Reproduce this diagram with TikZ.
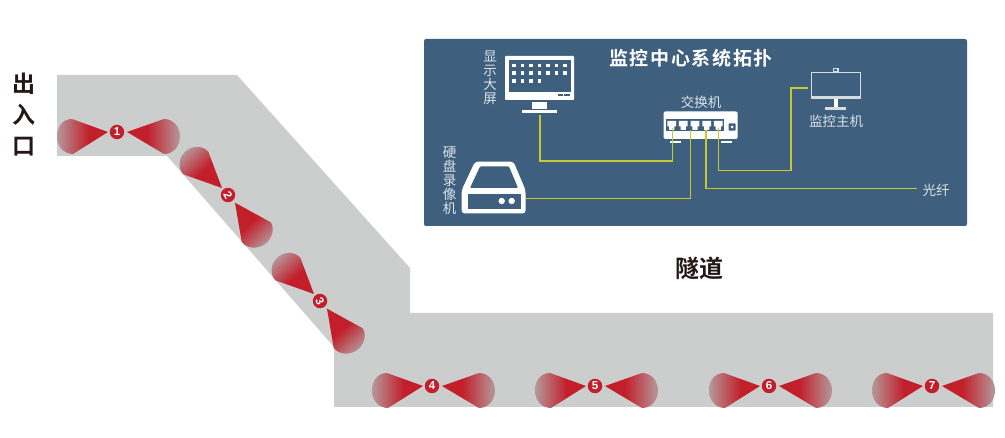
\documentclass[tikz,border=0pt]{standalone}
\usepackage{fontspec}
\setmainfont{Noto Sans CJK SC}
\newfontfamily\cjkb{Noto Sans CJK SC Bold}
\newfontfamily\digitf{Liberation Sans Bold}
\definecolor{panelc}{HTML}{3F5F7F}
\definecolor{wirec}{HTML}{C8C832}
\definecolor{roadc}{HTML}{CCCECD}
\definecolor{camred}{HTML}{C21F2B}
\definecolor{camfar}{HTML}{B5989A}
\definecolor{inkc}{HTML}{231815}
\definecolor{labelc}{HTML}{DDE3E8}
\definecolor{thinc}{HTML}{D5DCE2}
\pgfdeclarehorizontalshading{conefade}{100bp}{color(0bp)=(camfar); color(25bp)=(camfar); color(56bp)=(camred); color(100bp)=(camred)}
\tikzset{
  x=1pt,y=-1pt,
  wire/.style={draw=wirec,line width=1.6pt},
  icon/.style={fill=white,draw=none},
  hole/.style={fill=panelc,draw=none},
  smalllabel/.style={text=labelc,font=\fontsize{13.5}{14}\selectfont,align=center,inner sep=0pt},
  bigbold/.style={text=inkc,font=\cjkb\fontsize{23}{31}\selectfont,align=center,inner sep=0pt},
  camdot/.style={circle,fill=camred,draw=none,minimum size=14.5pt,inner sep=0pt,text=white,font=\digitf\fontsize{11.5}{11.5}\selectfont},
  cone/.style={shading=conefade,draw=none},
  pics/hcam/.style={code={
    \path[cone,shading angle=0] (-9,0) -- (-45,-13) .. controls (-54.5,-13) and (-60,-5) .. (-60,4.5) .. controls (-60,14) and (-53.7,22) .. (-44,22) -- cycle;
    \path[cone,shading angle=180] (10,0) -- (47,-13) .. controls (56.5,-13) and (63,-5) .. (63,4.5) .. controls (63,14) and (56.5,22) .. (47,22) -- cycle;
  }},
  pics/dcam/.style={code={
    \path[cone,shading angle=-48] (-6,-7) -- (-19.7,-43.3) .. controls (-25.7,-50) and (-35.9,-49.5) .. (-42.6,-43.5) .. controls (-49.3,-37.5) and (-50.7,-27.4) .. (-44.7,-20.7) -- cycle;
    \path[cone,shading angle=132] (7,7.7) -- (42.7,27.3) .. controls (47.4,34.4) and (43.6,44.8) .. (36.5,49.5) .. controls (29.4,54.2) and (18.4,53.8) .. (13.7,46.7) -- cycle;
  }}
}
\begin{document}
\begin{tikzpicture}
\useasboundingbox (0,0) rectangle (1005,438);
% road
\fill[roadc] (57,75) -- (237,75) -- (410,268) -- (410,313) -- (993,313) -- (993,407) -- (334,407) -- (334,347) -- (167,156) -- (57,156) -- cycle;
% cameras
\coordinate (c1) at (117,132);\coordinate (c2) at (228,195);\coordinate (c3) at (320,301);
\coordinate (c4) at (432,386);\coordinate (c5) at (595,386);\coordinate (c6) at (769,386);\coordinate (c7) at (932,386);
\foreach \n in {1,4,5,6,7}{\pic at (c\n) {hcam};}
\foreach \n in {2,3}{\pic at (c\n) {dcam};}
\node[camdot] (n1) at (c1) {1};
\node[camdot] (n2) at (c2) {\rotatebox{-60}{2}};
\node[camdot] (n3) at (c3) {\rotatebox{-60}{3}};
\node[camdot] (n4) at (c4) {4};
\node[camdot] (n5) at (c5) {5};
\node[camdot] (n6) at (c6) {6};
\node[camdot] (n7) at (c7) {7};
% panel
\fill[panelc,rounded corners=2pt] (424,39) rectangle (967,226);
% texts
\node[inner sep=0pt,text=white,font=\cjkb\fontsize{19}{19}\selectfont] (title) at (691,58) {监\hspace{1.7pt}控\hspace{1.7pt}中\hspace{1.7pt}心\hspace{1.7pt}系\hspace{1.7pt}统\hspace{1.7pt}拓\hspace{1.7pt}扑};
\node[smalllabel] (ldisp) at (490,78) {显\\示\\大\\屏};
\node[smalllabel] (lhdd) at (449.5,181) {硬\\盘\\录\\像\\机};
\node[smalllabel] (lsw) at (701,102) {交换机};
\node[smalllabel] (lpc) at (836,121) {监控主机};
\node[smalllabel] (lfib) at (936,190) {光纤};
\node[bigbold] (lent) at (24,114.5) {出\\入\\口};
\node[inner sep=0pt,text=inkc,font=\cjkb\fontsize{24}{24}\selectfont] (ltun) at (699,268) {隧道};
% display icon
\fill[icon,rounded corners=0.8pt] (505,56) rectangle (574,100);
\fill[hole] (509.3,60) rectangle (570.7,91.7);
\foreach \y/\m in {65.7/7,73/7,81/4}{\foreach \i in {1,...,\m}{\fill[icon] ({514+8.5*(\i-1)-1.6},\y-1.6) rectangle ++(3.2,3.2);}}
\fill[hole] (557.7,94.5) rectangle (562.7,96);\fill[hole] (564.3,94.5) rectangle (570,96);
\fill[icon] (532,101.7) rectangle (547,109);
\fill[icon] (521.7,110.3) rectangle (557.3,113.3);
\coordinate (dispout) at (540,115);
% switch icon
\fill[icon,rounded corners=2pt] (663.5,111.5) rectangle (737.7,139);
\fill[hole] (666,119.5) rectangle (724,131.5);
\foreach \x in {671.7,683.3,695,706.7,718.3}{
  \fill[icon] (\x-4.4,121) -- (\x+4.4,121) -- (\x+4.4,126.5) -- (\x+2.6,126.5) -- (\x+2.6,129.8) -- (\x-2.6,129.8) -- (\x-2.6,126.5) -- (\x-4.4,126.5) -- cycle;
}
\fill[icon] (669.5,140.8) rectangle (680.5,142.8);
\fill[icon] (721,140.8) rectangle (732,142.8);
\fill[hole,rounded corners=0.8pt] (728.5,123.3) rectangle (735.5,130.7);
\fill[icon] (732,127) circle (1.5pt);
\coordinate (p1) at (672.3,128);\coordinate (p2) at (690.3,130);\coordinate (p3) at (706,130);\coordinate (p4) at (718.3,128);
% hdd icon
\fill[icon,rounded corners=3pt] (475,161.7) -- (513.5,161.7) -- (525.5,190) -- (525.5,213.5) -- (461.7,213.5) -- (461.7,190) -- cycle;
\fill[hole,rounded corners=1pt] (480,166.5) -- (509,166.5) -- (518,188) -- (470,188) -- cycle;
\fill[hole] (468,194) rectangle (520.5,209.5);
\fill[icon] (501.7,201) circle (3.2pt);
\fill[icon] (511.7,201) circle (3.2pt);
\coordinate (hddout) at (526,198.7);
% pc icon
\draw[thinc,line width=0.9pt] (811,72) rectangle (860,98);
\fill[thinc] (811,96) rectangle (860,99.3);
\fill[thinc] (832.7,68.3) rectangle (838.7,72);
\fill[panelc] (834.3,69.5) rectangle (837.1,71.3);
\fill[icon] (833.5,99.3) rectangle (838.3,107.5);
\fill[thinc] (825,107.5) rectangle (846,110);
\coordinate (pcin) at (808.3,88.3);
\coordinate (fibend) at (917,188.7);
% wires
\draw[wire] (dispout) |- (672.3,161) -- (p1);
\draw[wire] (hddout) -| (p2);
\draw[wire] (p3) |- (fibend);
\draw[wire] (p4) -- (718.3,170.7) -- (790.7,170.7) -- (790.7,88.3) -- (pcin);
\end{tikzpicture}
\end{document}
